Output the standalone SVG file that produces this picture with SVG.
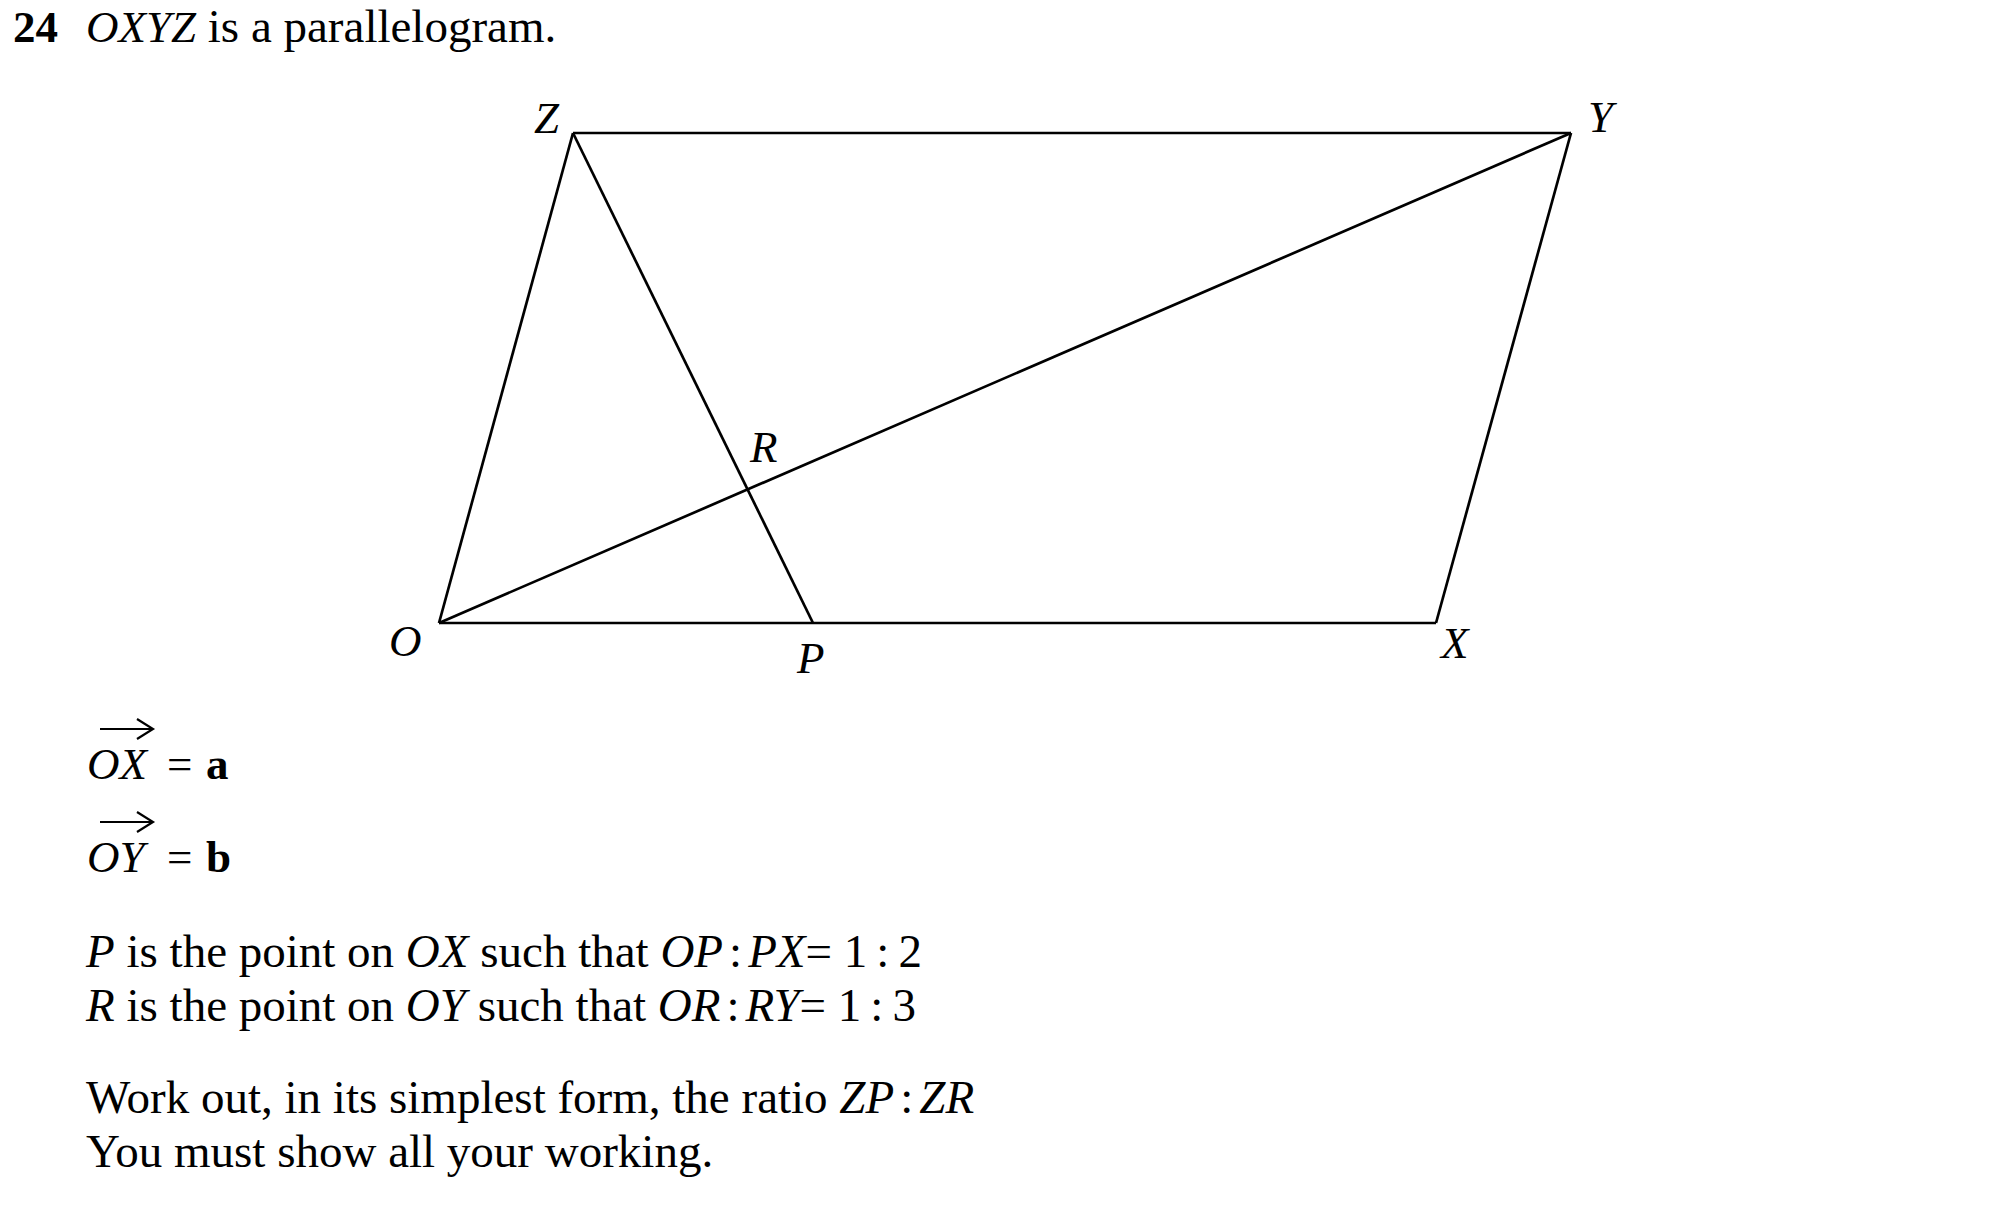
<svg xmlns="http://www.w3.org/2000/svg" width="2000" height="1230" viewBox="0 0 2000 1230">
<style>
text{font-family:"Liberation Serif","Times New Roman",serif;font-size:45px;fill:#000}
.i{font-style:italic}
.b{font-weight:bold}
.body{font-size:47px}
.edge{stroke:#000;stroke-width:2.7;fill:none;stroke-linecap:butt;stroke-linejoin:miter}
.vec{stroke:#000;stroke-width:2.2;fill:none}
</style>
<rect width="2000" height="1230" fill="#fff"/>
<text x="13" y="42"><tspan class="b">24</tspan><tspan class="i" x="86">OXYZ</tspan><tspan font-size="47"> is a parallelogram.</tspan></text>
<g id="connectors">
<path id="OX" class="edge" d="M439,623 L1436,623"/>
<path id="XY" class="edge" d="M1436,623 L1571,133"/>
<path id="YZ" class="edge" d="M1571,133 L573,133"/>
<path id="ZO" class="edge" d="M573,133 L439,623"/>
<path id="OY" class="edge" d="M439,623 L1571,133"/>
<path id="ZP" class="edge" d="M573,133 L813,623"/>
</g>
<g id="node-O"><text class="i" x="389" y="656">O</text></g>
<g id="node-X"><text class="i" x="1441" y="658">X</text></g>
<g id="node-Y"><text class="i" x="1588" y="132">Y</text></g>
<g id="node-Z"><text class="i" x="534" y="133">Z</text></g>
<g id="node-P"><text class="i" x="797" y="673">P</text></g>
<g id="node-R"><text class="i" x="750" y="462">R</text></g>
<g id="vectors">
<path class="vec" d="M100,729 L152,729 M137,719 L153,729 L137,739"/>
<text x="87" y="779"><tspan class="i">OX</tspan><tspan x="167">=</tspan><tspan class="b" x="206">a</tspan></text>
<path class="vec" d="M100,822 L152,822 M137,812 L153,822 L137,832"/>
<text x="87" y="872"><tspan class="i">OY</tspan><tspan x="167">=</tspan><tspan class="b" x="206">b</tspan></text>
</g>
<g id="statements">
<text class="body" x="86" y="967"><tspan class="i">P</tspan> is the point on <tspan class="i">OX</tspan> such that <tspan class="i">OP</tspan><tspan dx="6">:</tspan><tspan class="i" dx="6">PX</tspan>= 1<tspan dx="9">:</tspan><tspan dx="9">2</tspan></text>
<text class="body" x="86" y="1021"><tspan class="i">R</tspan> is the point on <tspan class="i">OY</tspan> such that <tspan class="i">OR</tspan><tspan dx="6">:</tspan><tspan class="i" dx="6">RY</tspan>= 1<tspan dx="9">:</tspan><tspan dx="9">3</tspan></text>
<text class="body" x="86" y="1113">Work out, in its simplest form, the ratio <tspan class="i">ZP</tspan><tspan dx="6">:</tspan><tspan class="i" dx="6">ZR</tspan></text>
<text class="body" x="86" y="1167">You must show all your working.</text>
</g>
</svg>
